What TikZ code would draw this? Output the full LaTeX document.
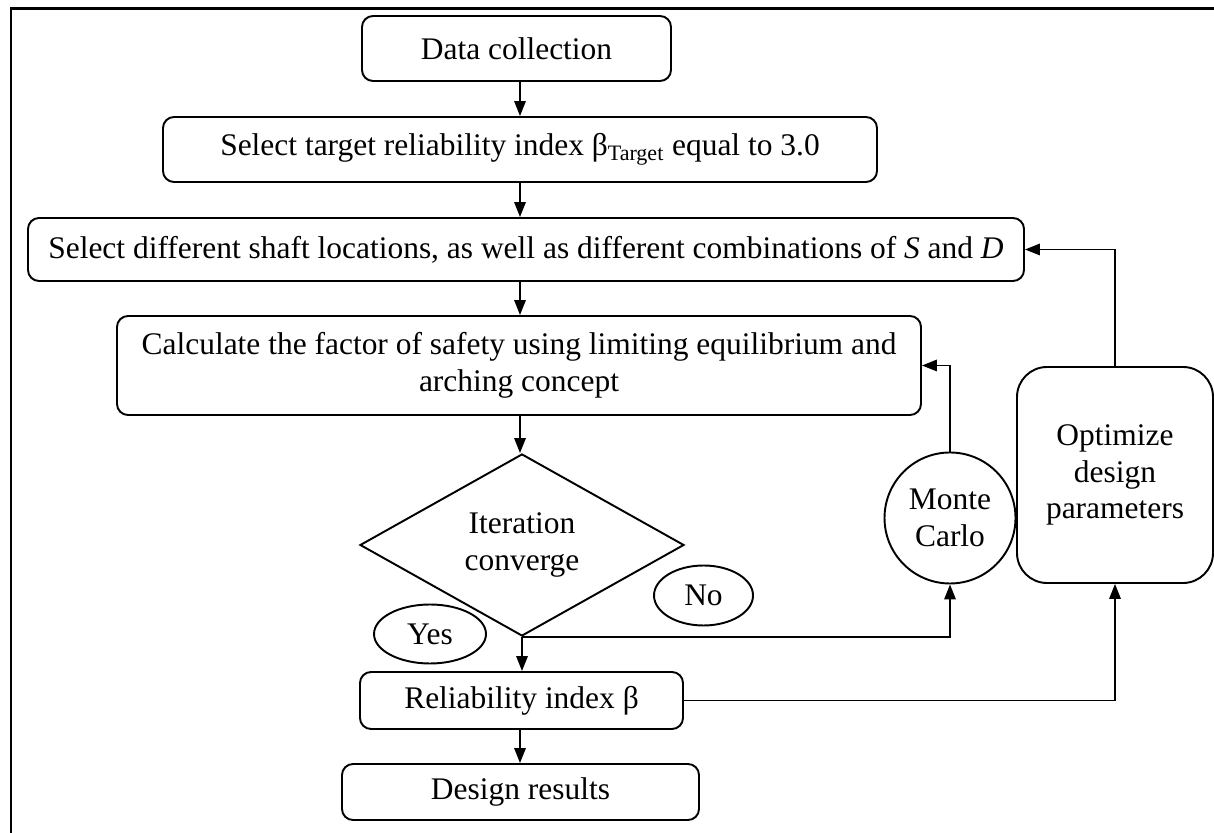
\documentclass[tikz,border=0pt]{standalone}
\usepackage{fontspec}
\setmainfont{Liberation Serif}
\usetikzlibrary{shapes.geometric, arrows.meta, positioning, calc}

\begin{document}
\begin{tikzpicture}[
        font=\fontsize{17.9}{21}\selectfont,
        box/.style={rectangle, rounded corners=0.22cm, draw, line width=1.1pt, align=center, inner sep=0pt},
        decision/.style={diamond, draw, line width=1.1pt, align=center, inner sep=0pt},
        tag/.style={ellipse, draw, line width=1.1pt, inner sep=0pt},
        loopnode/.style={circle, draw, line width=1.1pt, align=center, inner sep=0pt, minimum size=2.62cm},
        arrow/.style={-{Triangle[width=0.23cm, length=0.3cm]}, line width=1pt, draw, black},
        frame/.style={line width=1.7pt}
    ]
    \useasboundingbox (0,0) rectangle (24.28,16.66);
    \clip (0,0) rectangle (24.28,16.66);

    % Outer frame
    \draw[frame] (0.22,-1) -- (0.22,16.48) -- (25,16.48);

    % Main column
    \coordinate (col) at (10.4,0);
    \node[box, minimum width=6.18cm, minimum height=1.30cm] (collect) at (10.33,15.69) {Data collection};
    \node[box, minimum width=14.28cm, minimum height=1.30cm] (target) at (10.40,13.67) {Select target reliability index β\textsubscript{Target} equal to 3.0};
    \node[box, minimum width=19.92cm, minimum height=1.26cm] (shaft) at (10.52,11.67) {Select different shaft locations, as well as different combinations of \textit{S} and \textit{D}};
    \node[box, minimum width=16.08cm, minimum height=1.98cm] (calc) at (10.38,9.35) {Calculate the factor of safety using limiting equilibrium and\\arching concept};
    \node[decision, minimum width=6.48cm, minimum height=3.64cm] (converge) at (10.44,5.76) {Iteration\\converge};
    \node[box, minimum width=6.46cm, minimum height=1.14cm] (index) at (10.43,2.65) {Reliability index β};
    \node[box, minimum width=7.14cm, minimum height=1.12cm] (results) at (10.41,0.82) {Design results};

    % Decision labels
    \node[tag, minimum width=2.24cm, minimum height=1.18cm] (yes) at (8.60,3.98) {Yes};
    \node[tag, minimum width=1.98cm, minimum height=1.20cm] (no) at (14.07,4.75) {No};

    % Loops
    \node[loopnode] (monte) at (19.0,6.30) {Monte\\Carlo};
    \node[box, rounded corners=0.6cm, minimum width=3.92cm, minimum height=4.32cm] (optimize) at (22.30,7.16) {Optimize\\design\\parameters};

    % Arrows - main flow
    \draw[arrow] (collect.south -| col) -- (target.north -| col);
    \draw[arrow] (target.south -| col) -- (shaft.north -| col);
    \draw[arrow] (shaft.south -| col) -- (calc.north -| col);
    \draw[arrow] (calc.south -| col) -- (converge.north -| col);
    \draw[arrow] (converge.south) -- (converge.south |- index.north);
    \draw[arrow] (index.south -| col) -- (results.north -| col);

    % Arrows - feedback
    \draw[arrow] (converge.south) -| (monte.south);
    \draw[arrow] (monte.north) |- (calc.east);
    \draw[arrow] (index.east) -| (optimize.south);
    \draw[arrow] (optimize.north) |- (shaft.east);

\end{tikzpicture}
\end{document}
